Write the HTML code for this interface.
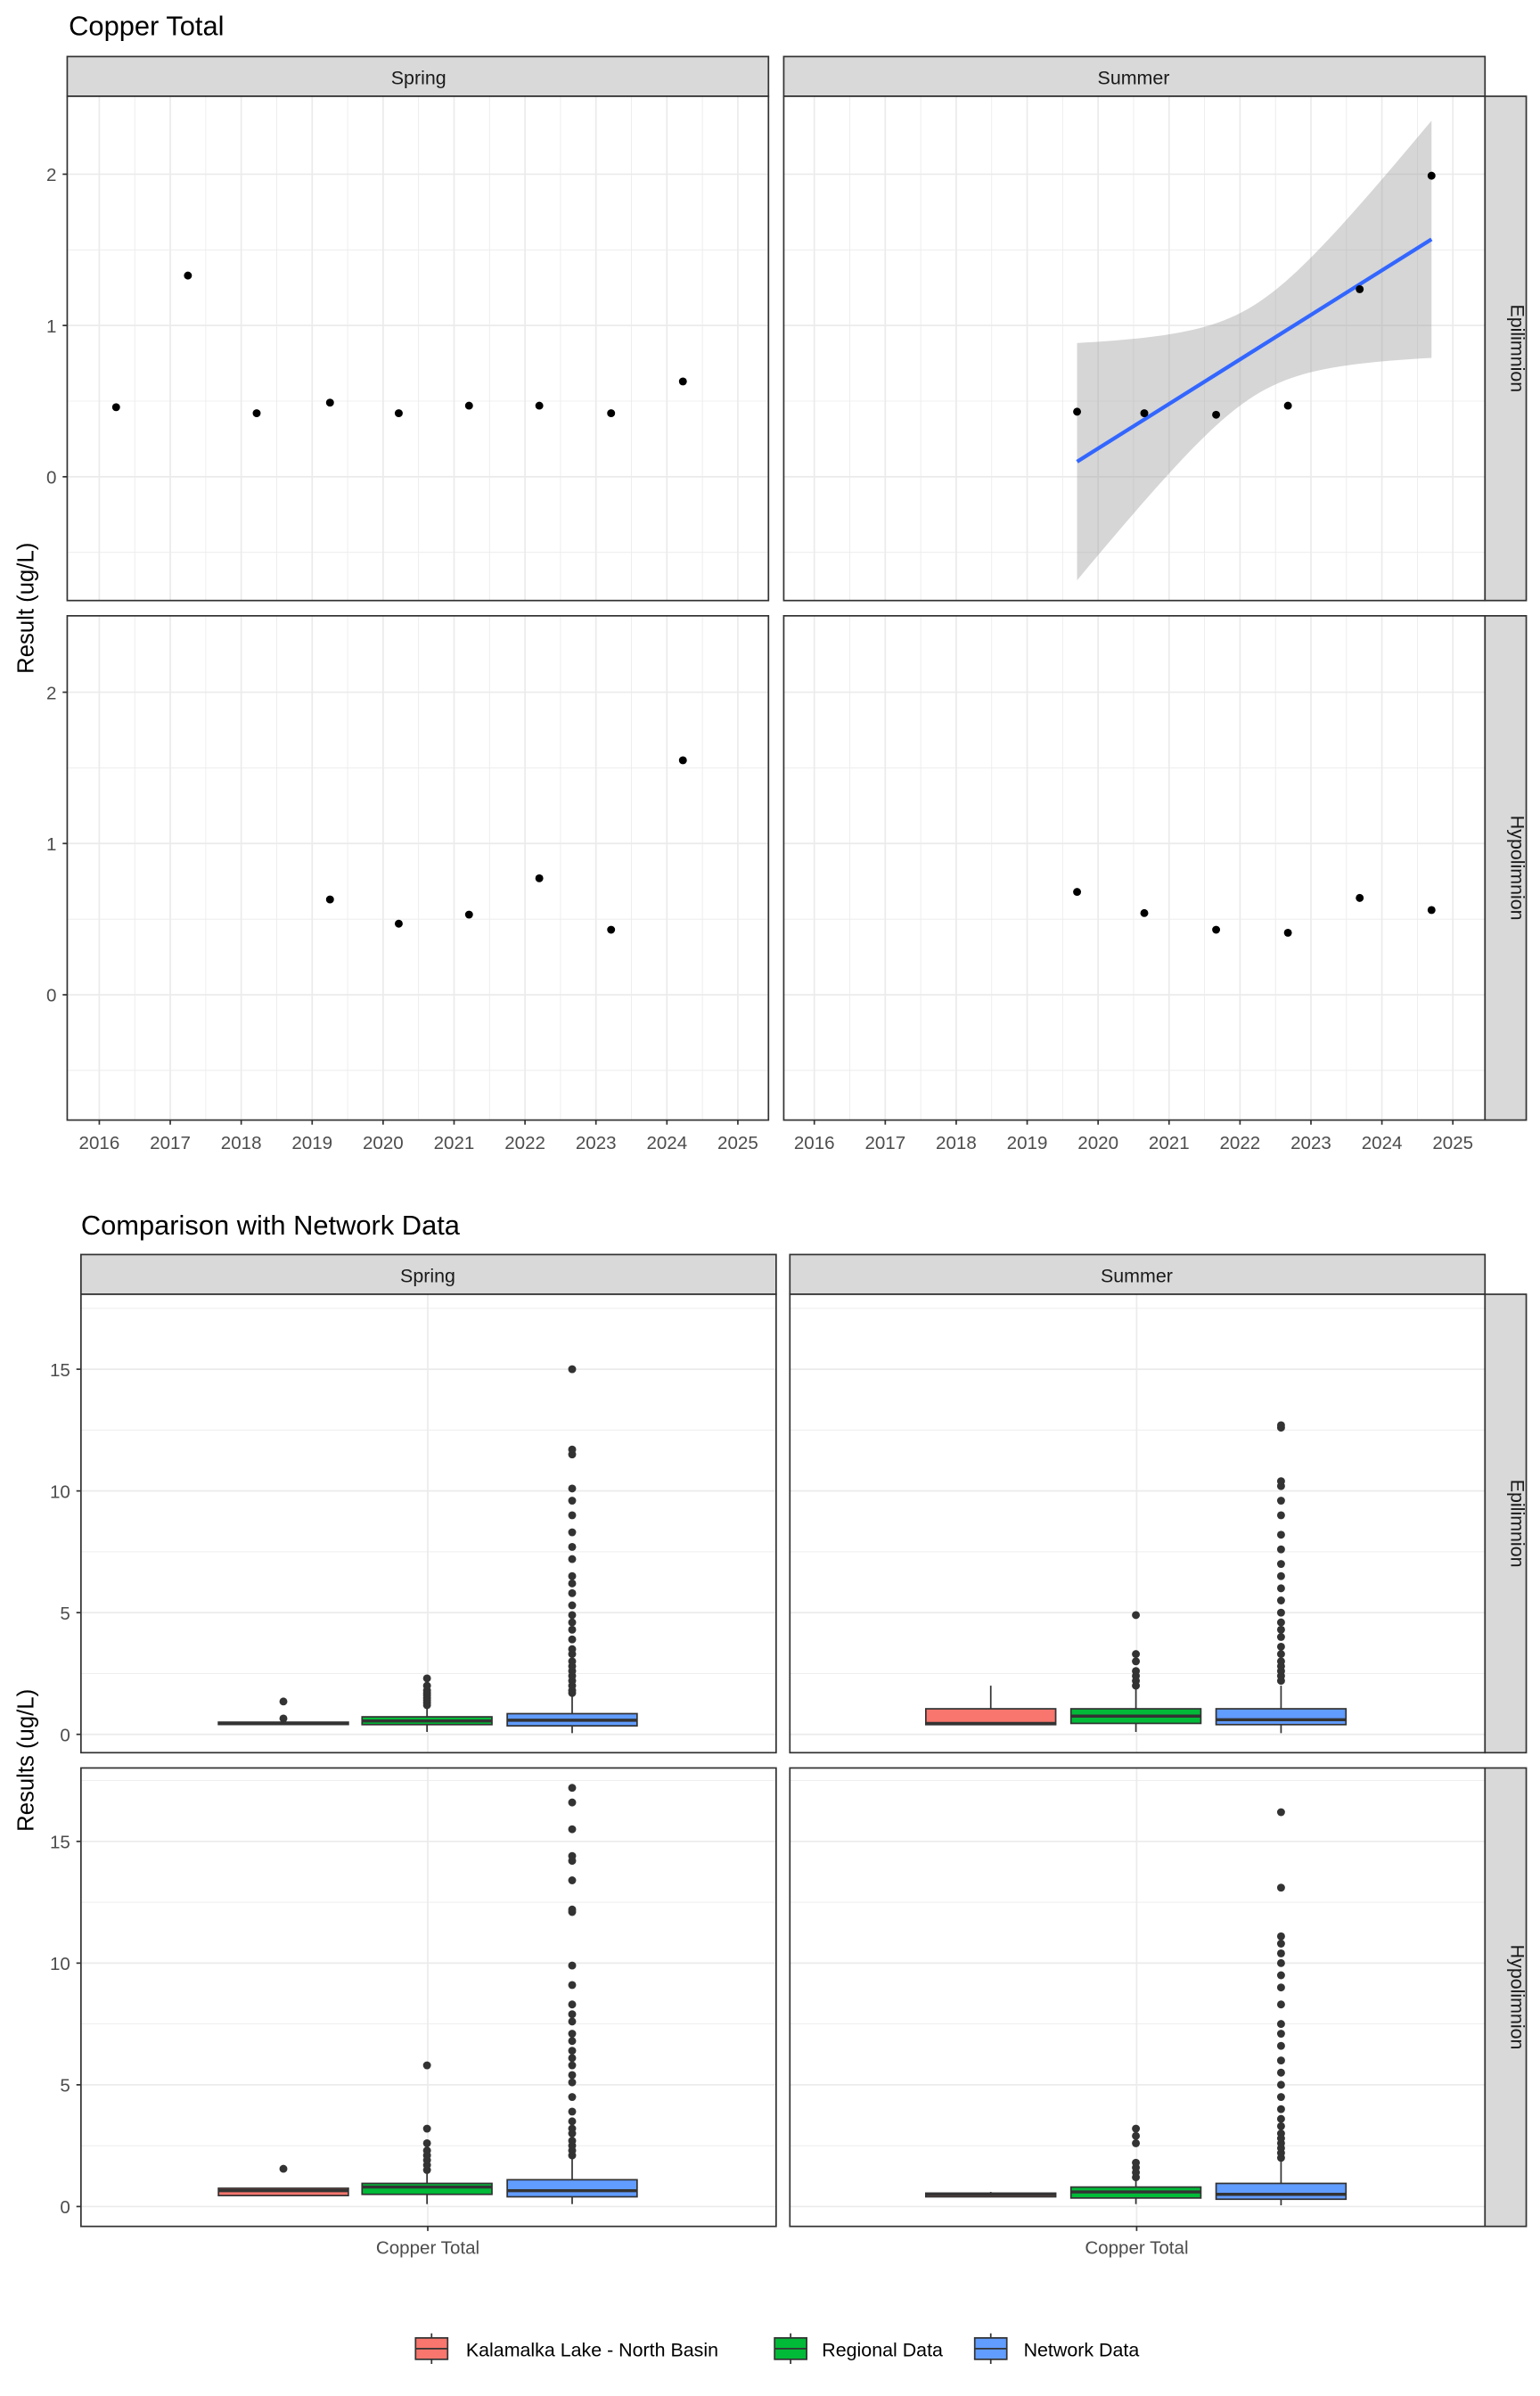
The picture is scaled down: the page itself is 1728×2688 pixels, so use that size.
<!DOCTYPE html>
<html><head><meta charset="utf-8"><style>html,body{margin:0;padding:0;background:#fff}svg{display:block}text{font-family:"Liberation Sans",Arial,sans-serif}</style></head>
<body>
<svg id="s" xmlns="http://www.w3.org/2000/svg" width="1728" height="2688" viewBox="0 0 1008 1568"></svg>
<script>
const S=document.getElementById('s');let h='<rect width="1008" height="1568" fill="#fff"/>';
const T=(x,y,t,o)=>{o=o||{};h+=`<text x="${x}" y="${y}" font-size="${o.fs||12}" fill="${o.c||'#4d4d4d'}" text-anchor="${o.a||'start'}"${o.r?` transform="rotate(${o.r} ${x} ${y})"`:''}>${t}</text>`};
const L=(x1,y1,x2,y2,c,w)=>{h+=`<line x1="${x1}" y1="${y1}" x2="${x2}" y2="${y2}" stroke="${c}" stroke-width="${w}"/>`};
const R=(x,y,w,hh,f,s,sw)=>{h+=`<rect x="${x}" y="${y}" width="${w}" height="${hh}" fill="${f}" stroke="${s||'none'}" stroke-width="${sw||0}"/>`};
// ===== TOP =====
T(45,23,'Copper Total',{fs:18,c:'#000'});
const TX=[44,513],TW=459,TY=[63,403],TH=330;
TX.forEach(x=>{R(x,37,TW,26,'#d9d9d9','#333',1);});
T(274,55,'Spring',{fs:12.5,c:'#1a1a1a',a:'middle'});T(742,55,'Summer',{fs:12.5,c:'#1a1a1a',a:'middle'});
const zero=[312,651];
for(let r=0;r<2;r++){for(let c=0;c<2;c++){const x0=TX[c],y0=TY[r];const x2016=c?533:65;
R(x0,y0,TW,TH,'#fff');
for(let k=-0.5;k<=9.5;k+=0.5){const xx=x2016+k*46.44;if(xx>x0&&xx<x0+TW)L(xx,y0,xx,y0+TH,'#ebebeb',Number.isInteger(k)?1:0.5);}
[-0.5,0,0.5,1,1.5,2].forEach(v=>{L(x0,zero[r]-v*99,x0+TW,zero[r]-v*99,'#ebebeb',Number.isInteger(v)?1:0.5)});
}}
{let up=[],dn=[];for(let x=705;x<=937;x+=4){const m=0.1+(x-705)*(1.47/232);const d=x-821;const w=Math.sqrt(0.09+3.9e-5*d*d);up.push(`${x},${312-(m+w)*99}`);dn.unshift(`${x},${312-(m-w)*99}`);}
h+=`<polygon points="${up.join(' ')} ${dn.join(' ')}" fill="#999" fill-opacity="0.4"/>`;
L(705,312-0.1*99,937,312-1.57*99,'#3366ff',2.5);}
const pts=[[[76,.46],[123,1.33],[168,.42],[216,.49],[261,.42],[307,.47],[353,.47],[400,.42],[447,.63]],
[[705,.43],[749,.42],[796,.41],[843,.47],[890,1.24],[937,1.99]],
[[216,.63],[261,.47],[307,.53],[353,.77],[400,.43],[447,1.55]],
[[705,.68],[749,.54],[796,.43],[843,.41],[890,.64],[937,.56]]];
pts.forEach((p,i)=>{const z=zero[i>>1];p.forEach(q=>h+=`<circle cx="${q[0]}" cy="${z-q[1]*99}" r="2.6" fill="#000"/>`)});
for(let r=0;r<2;r++){for(let c=0;c<2;c++){R(TX[c],TY[r],TW,TH,'none','#333',1);}
R(972,TY[r],27,TH,'#d9d9d9','#333',1);
[0,1,2].forEach(v=>{const y=zero[r]-v*99;L(41,y,44,y,'#333',1);T(37,y+4.5,v,{a:'end'});});}
T(989,228,'Epilimnion',{fs:12.5,c:'#1a1a1a',a:'middle',r:90});T(989,568,'Hypolimnion',{fs:12.5,c:'#1a1a1a',a:'middle',r:90});
T(22,398,'Result (ug/L)',{fs:15,c:'#000',a:'middle',r:-90});
TX.forEach((x0,c)=>{const b=c?533:65;for(let k=0;k<=9;k++){const xx=b+k*46.44;L(xx,733,xx,736,'#333',1);T(xx,752,2016+k,{a:'middle'});}});
// ===== BOTTOM =====
T(53,808,'Comparison with Network Data',{fs:18,c:'#000'});
const BX=[53,517],BW=455,BY=[847,1157],BH=300,bz=[1135,1444],u=15.93;
BX.forEach(x=>R(x,821,BW,26,'#d9d9d9','#333',1));
T(280,839,'Spring',{fs:12.5,c:'#1a1a1a',a:'middle'});T(744,839,'Summer',{fs:12.5,c:'#1a1a1a',a:'middle'});
const cols={r:'#f8766d',g:'#00ba38',b:'#619cff'};
const D=[
[[0.4,0.42,0.45,0.5,0.5,[0.65,1.35]],[0.1,0.4,0.55,0.72,1.1,[1.2,1.3,1.4,1.5,1.6,1.7,1.8,2.0,2.3]],[0.05,0.35,0.58,0.85,1.6,[1.7,1.8,2.0,2.2,2.4,2.6,2.8,3.0,3.3,3.5,3.9,4.3,4.6,4.9,5.3,5.8,6.2,6.5,7.2,7.7,8.3,9.0,9.6,10.1,11.5,11.7,15.0]]],
[[0.4,0.4,0.45,1.05,2.0,[]],[0.1,0.45,0.75,1.05,1.9,[2.0,2.2,2.4,2.6,3.0,3.3,4.9]],[0.05,0.4,0.6,1.05,2.0,[2.2,2.4,2.6,2.8,3.0,3.3,3.6,4.0,4.3,4.6,5.0,5.5,6.0,6.5,7.0,7.6,8.2,9.0,9.6,10.2,10.4,12.6,12.7]]],
[[0.45,0.45,0.65,0.75,0.75,[1.55]],[0.1,0.5,0.8,0.95,1.4,[1.5,1.7,1.9,2.1,2.3,2.6,3.2,5.8]],[0.1,0.4,0.65,1.1,2.0,[2.1,2.3,2.5,2.7,3.0,3.2,3.5,3.9,4.5,5.1,5.4,5.8,6.1,6.4,6.8,7.1,7.6,7.9,8.3,9.1,9.9,12.1,12.2,13.4,14.2,14.4,15.5,16.6,17.2]]],
[[0.4,0.4,0.5,0.55,0.6,[]],[0.1,0.35,0.6,0.8,1.15,[1.2,1.4,1.6,1.8,2.6,2.9,3.2]],[0.05,0.3,0.5,0.95,1.9,[2.0,2.2,2.4,2.6,2.8,3.0,3.3,3.6,4.0,4.5,5.0,5.5,6.0,6.6,7.1,7.5,8.3,9.0,9.5,10.0,10.4,10.8,11.1,13.1,16.2]]]];
const xs=[[143,237,332],[606,701,796]],bw=85,ck=['r','g','b'];
for(let r=0;r<2;r++)for(let c=0;c<2;c++){const x0=BX[c],y0=BY[r],z=bz[r];
R(x0,y0,BW,BH,'#fff');
[2.5,7.5,12.5,17.5].forEach(v=>L(x0,z-v*u,x0+BW,z-v*u,'#ebebeb',0.5));
[0,5,10,15].forEach(v=>L(x0,z-v*u,x0+BW,z-v*u,'#ebebeb',1));
const cx=c?744:280;L(cx,y0,cx,y0+BH,'#ebebeb',1);
D[r*2+c].forEach((d,i)=>{const bx=xs[c][i],m=bx+bw/2,Y=v=>z-v*u;
L(m,Y(d[0]),m,Y(d[1]),'#333',1);L(m,Y(d[3]),m,Y(d[4]),'#333',1);
R(bx,Y(d[3]),bw,Math.max(Y(d[1])-Y(d[3]),1.5),cols[ck[i]],'#333',1);
L(bx,Y(d[2]),bx+bw,Y(d[2]),'#333',2);
d[5].forEach(o=>h+=`<circle cx="${m}" cy="${Y(o)}" r="2.6" fill="#333"/>`);});
R(x0,y0,BW,BH,'none','#333',1);}
for(let r=0;r<2;r++){R(972,BY[r],27,BH,'#d9d9d9','#333',1);
[0,5,10,15].forEach(v=>{const y=bz[r]-v*u;L(50,y,53,y,'#333',1);T(46,y+4.5,v,{a:'end'});});}
T(989,997,'Epilimnion',{fs:12.5,c:'#1a1a1a',a:'middle',r:90});T(989,1307,'Hypolimnion',{fs:12.5,c:'#1a1a1a',a:'middle',r:90});
T(22,1152,'Results (ug/L)',{fs:15,c:'#000',a:'middle',r:-90});
[280,744].forEach(x=>{L(x,1457,x,1460,'#333',1);T(x,1475,'Copper Total',{a:'middle'});});
[[272,'r','Kalamalka Lake - North Basin',305],[507,'g','Regional Data',538],[638,'b','Network Data',670]].forEach(l=>{
L(l[0]+10.5,1527,l[0]+10.5,1547,'#333',1);R(l[0],1530,21,14,cols[l[1]],'#333',1);L(l[0],1537,l[0]+21,1537,'#333',1);
T(l[3],1542,l[2],{fs:12.5,c:'#000'});});
S.innerHTML=h;
</script>
</body></html>
